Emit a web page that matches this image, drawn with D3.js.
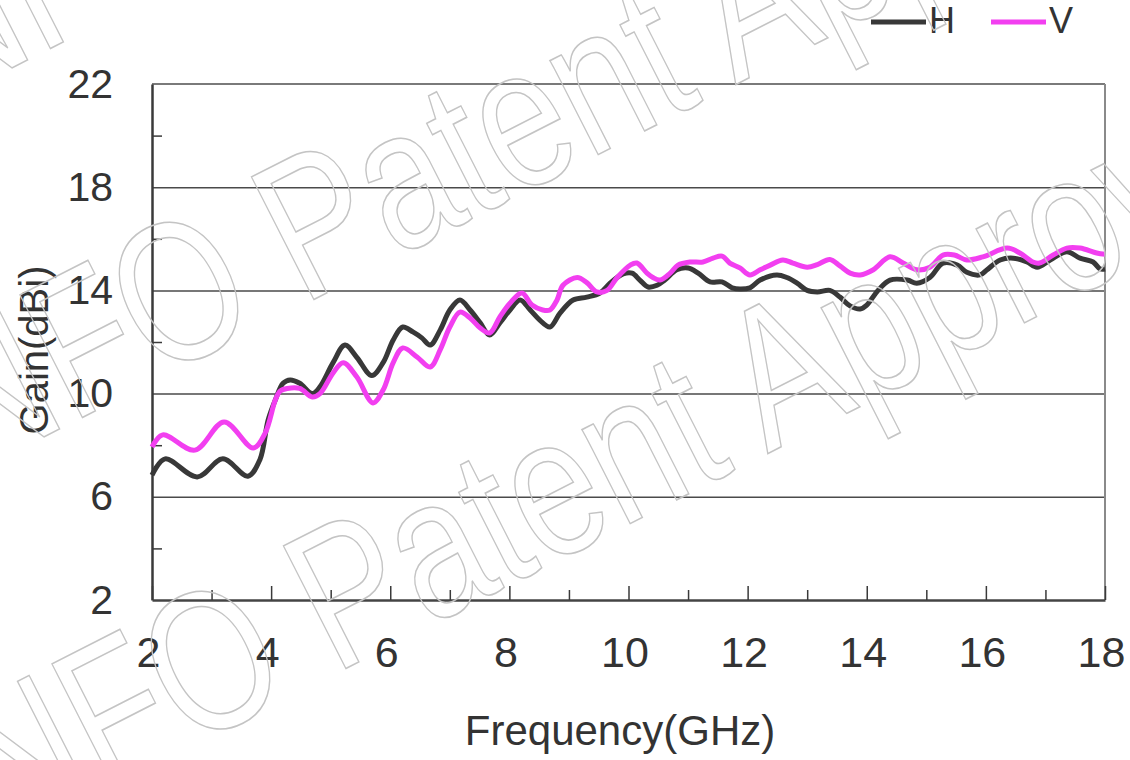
<!DOCTYPE html>
<meta charset="utf-8">
<html>
  <head>
    <title>Gain</title>
    <script src="https://d3js.org/d3.v7.min.js"></script>
    <style>
      body { margin: 0; background: #fff; }
      text { font-family: "Liberation Sans", Arial, sans-serif; fill: #333; }
    </style>
  </head>
  <body>
    <div id="chart"></div>
    <script type="text/javascript">

        // H polarisation
        var h_freq = [2.00, 2.22, 2.76, 3.19, 3.61, 3.81, 3.95, 4.07, 4.20, 4.32, 4.48, 4.69, 4.82, 5.04, 5.24, 5.44, 5.69, 5.88,
                      6.05, 6.21, 6.38, 6.53, 6.67, 6.84, 7.00, 7.17, 7.34, 7.51, 7.67, 7.84, 8.01, 8.18, 8.35, 8.51, 8.68, 8.85,
                      9.07, 9.30, 9.52, 9.69, 9.91, 10.06, 10.19, 10.33, 10.48, 10.61, 10.81, 11.00, 11.17, 11.37, 11.57, 11.74,
                      11.87, 12.04, 12.21, 12.49, 12.66, 12.83, 13.00, 13.17, 13.38, 13.55, 13.72, 13.89, 14.00, 14.19, 14.39,
                      14.68, 14.84, 15.06, 15.28, 15.52, 15.68, 15.90, 16.02, 16.24, 16.46, 16.69, 16.86, 17.08, 17.36, 17.58,
                      17.80, 17.92, 18.00];
        var h_gain = [6.84, 7.47, 6.77, 7.47, 6.80, 7.43, 8.98, 9.75, 10.40, 10.53, 10.40, 10.00, 10.26, 11.20, 11.88, 11.40, 10.70, 11.20,
                      12.08, 12.58, 12.39, 12.16, 11.88, 12.47, 13.24, 13.63, 13.24, 12.74, 12.27, 12.74, 13.24, 13.63, 13.24, 12.85, 12.58, 13.12,
                      13.63, 13.74, 13.90, 14.28, 14.64, 14.67, 14.40, 14.13, 14.20, 14.40, 14.80, 14.87, 14.67, 14.33, 14.33, 14.10,
                      14.05, 14.10, 14.40, 14.60, 14.50, 14.28, 14.00, 13.94, 14.00, 13.74, 13.40, 13.28, 13.43, 14.00, 14.40,
                      14.40, 14.28, 14.50, 15.06, 14.98, 14.70, 14.60, 14.80, 15.18, 15.25, 15.10, 14.90, 15.18, 15.50, 15.25,
                      15.10, 14.83, 14.83];

        // V polarisation
        var v_freq = [2.00, 2.18, 2.72, 3.21, 3.70, 3.90, 4.07, 4.15, 4.27, 4.48, 4.69, 4.82, 5.04, 5.21, 5.44, 5.71, 5.88,
                      6.05, 6.21, 6.45, 6.67, 6.84, 7.00, 7.17, 7.34, 7.51, 7.67, 7.84, 8.01, 8.21, 8.38, 8.56, 8.68, 8.80, 8.90,
                      9.14, 9.30, 9.47, 9.64, 9.81, 10.03, 10.14, 10.31, 10.41, 10.53, 10.70, 10.83, 11.03, 11.25, 11.42, 11.57,
                      11.70, 11.87, 12.04, 12.21, 12.38, 12.59, 12.76, 13.00, 13.17, 13.38, 13.55, 13.72, 13.89, 14.11, 14.39,
                      14.61, 14.84, 15.06, 15.28, 15.47, 15.68, 15.95, 16.36, 16.57, 16.79, 16.90, 17.13, 17.36, 17.58, 17.86, 18.00];
        var v_gain = [7.93, 8.40, 7.81, 8.90, 7.89, 8.47, 9.75, 10.10, 10.20, 10.20, 9.87, 10.00, 10.80, 11.20, 10.64, 9.64, 10.14,
                      11.20, 11.77, 11.42, 11.03, 11.70, 12.58, 13.16, 12.93, 12.54, 12.35, 12.97, 13.50, 13.90, 13.43, 13.24, 13.24, 13.63, 14.20,
                      14.50, 14.30, 13.94, 14.00, 14.50, 14.98, 15.06, 14.67, 14.50, 14.40, 14.67, 14.98, 15.10, 15.10, 15.25, 15.33,
                      15.06, 14.87, 14.60, 14.80, 14.98, 15.18, 15.06, 14.90, 15.00, 15.20, 14.95, 14.67, 14.60, 14.80, 15.30,
                      15.06, 14.80, 14.90, 15.37, 15.37, 15.18, 15.30, 15.64, 15.45, 15.10, 15.06, 15.37, 15.64, 15.64, 15.45, 15.40];

        var x_major = [2, 4, 6, 8, 10, 12, 14, 16, 18],
            x_minor = [3, 5, 7, 9, 11, 13, 15, 17],
            y_major = [2, 6, 10, 14, 18, 22],
            y_minor = [4, 8, 12, 16, 20],
            y_grid = [6, 10, 14, 18];

        var series = [
            {name: "H", color: "#383838", freq: h_freq, gain: h_gain},
            {name: "V", color: "#f23ff0", freq: v_freq, gain: v_gain}
        ];

        var total_width = 1130, total_height = 760;
        var plot = {left: 152, right: 1105, top: 84, bottom: 600};

        var svg = d3.select("#chart").append("svg")
            .attr("width", total_width)
            .attr("height", total_height)
            .style("background", "#fff");

        var x_scale = d3.scaleLinear().domain([2, 18]).range([plot.left, plot.right]);
        var y_scale = d3.scaleLinear().domain([2, 22]).range([plot.bottom, plot.top]);

        //Gridlines
        svg.append("g")
            .attr("transform", "translate(" + plot.left + ",0)")
            .call(d3.axisLeft(y_scale).tickValues(y_grid).tickSize(-(plot.right - plot.left)).tickFormat(""))
            .call(function(g){ g.select(".domain").remove(); })
            .selectAll("line").attr("stroke", "#4a4a4a").attr("stroke-width", 1.5);

        //Top and right border
        svg.append("line")
            .attr("x1", plot.left).attr("x2", plot.right)
            .attr("y1", y_scale(22)).attr("y2", y_scale(22))
            .attr("stroke", "#7a7a7a").attr("stroke-width", 2);
        svg.append("line")
            .attr("x1", x_scale(18)).attr("x2", x_scale(18))
            .attr("y1", plot.top).attr("y2", plot.bottom)
            .attr("stroke", "#8a8a8a").attr("stroke-width", 2);

        //Y axis
        var y_axis = svg.append("g")
            .attr("transform", "translate(" + plot.left + ",0)")
            .call(d3.axisLeft(y_scale).tickValues(y_major).tickSize(0).tickPadding(39).tickSizeOuter(0));
        y_axis.select(".domain").attr("stroke", "#3a3a3a").attr("stroke-width", 2.5);
        y_axis.selectAll("text").style("font-size", "41px").style("font-family", "Liberation Sans, Arial, sans-serif").attr("fill", "#333");

        svg.append("g")
            .attr("transform", "translate(" + plot.left + ",0)")
            .call(d3.axisLeft(y_scale).tickValues(y_minor).tickSize(-10).tickFormat(""))
            .call(function(g){ g.select(".domain").remove(); })
            .selectAll("line").attr("stroke", "#3a3a3a").attr("stroke-width", 1.5);

        //X axis
        var x_axis = svg.append("g")
            .attr("transform", "translate(0," + plot.bottom + ")")
            .call(d3.axisBottom(x_scale).tickValues(x_major).tickSize(-14).tickPadding(36).tickSizeOuter(0));
        x_axis.select(".domain").attr("stroke", "#444").attr("stroke-width", 2.5);
        x_axis.selectAll("line").attr("stroke", "#3a3a3a").attr("stroke-width", 1.5);
        x_axis.selectAll("text").style("font-size", "43px").style("font-family", "Liberation Sans, Arial, sans-serif")
            .attr("fill", "#333").attr("dx", -4);

        svg.append("g")
            .attr("transform", "translate(0," + plot.bottom + ")")
            .call(d3.axisBottom(x_scale).tickValues(x_minor).tickSize(-10).tickFormat(""))
            .call(function(g){ g.select(".domain").remove(); })
            .selectAll("line").attr("stroke", "#3a3a3a").attr("stroke-width", 1.5);

        //Axis titles
        svg.append("text")
            .attr("x", 620).attr("y", 745)
            .attr("text-anchor", "middle")
            .style("font-size", "42px")
            .text("Frequency(GHz)");
        svg.append("text")
            .attr("transform", "translate(48,350) rotate(-90)")
            .attr("text-anchor", "middle")
            .style("font-size", "40px")
            .text("Gain(dBi)");

        //Lines
        var gain_line = d3.line()
            .x(function(d){ return x_scale(d[0]); })
            .y(function(d){ return y_scale(d[1]); })
            .curve(d3.curveCatmullRom.alpha(0.5));

        svg.append("g").selectAll("path")
            .data(series)
            .enter().append("path")
            .attr("d", function(s){ return gain_line(d3.zip(s.freq, s.gain)); })
            .attr("fill", "none")
            .attr("stroke", function(s){ return s.color; })
            .attr("stroke-width", 5)
            .attr("stroke-linejoin", "round");

        //Legend
        var legend = svg.append("g").selectAll("g")
            .data(series)
            .enter().append("g")
            .attr("transform", function(d, i){ return "translate(" + (871 + i * 120) + ",0)"; });
        legend.append("line")
            .attr("x1", 0).attr("x2", 55)
            .attr("y1", 22).attr("y2", 22)
            .attr("stroke", function(d){ return d.color; })
            .attr("stroke-width", 5);
        legend.append("text")
            .attr("x", 58).attr("y", 33)
            .style("font-size", "36px")
            .text(function(d){ return d.name; });

        //Watermark
        var marks = [[-100, 125], [-68, 494], [-36, 863]];
        svg.append("g").selectAll("text")
            .data(marks)
            .enter().append("text")
            .attr("transform", function(d){ return "translate(" + d[0] + "," + d[1] + ") rotate(-27) scale(0.78,1)"; })
            .style("font-size", "200px")
            .style("fill", "none")
            .style("stroke", "#c4c4c4")
            .style("stroke-width", 1.6)
            .text("INFO Patent Approval");

    </script>
  </body>
</html>
